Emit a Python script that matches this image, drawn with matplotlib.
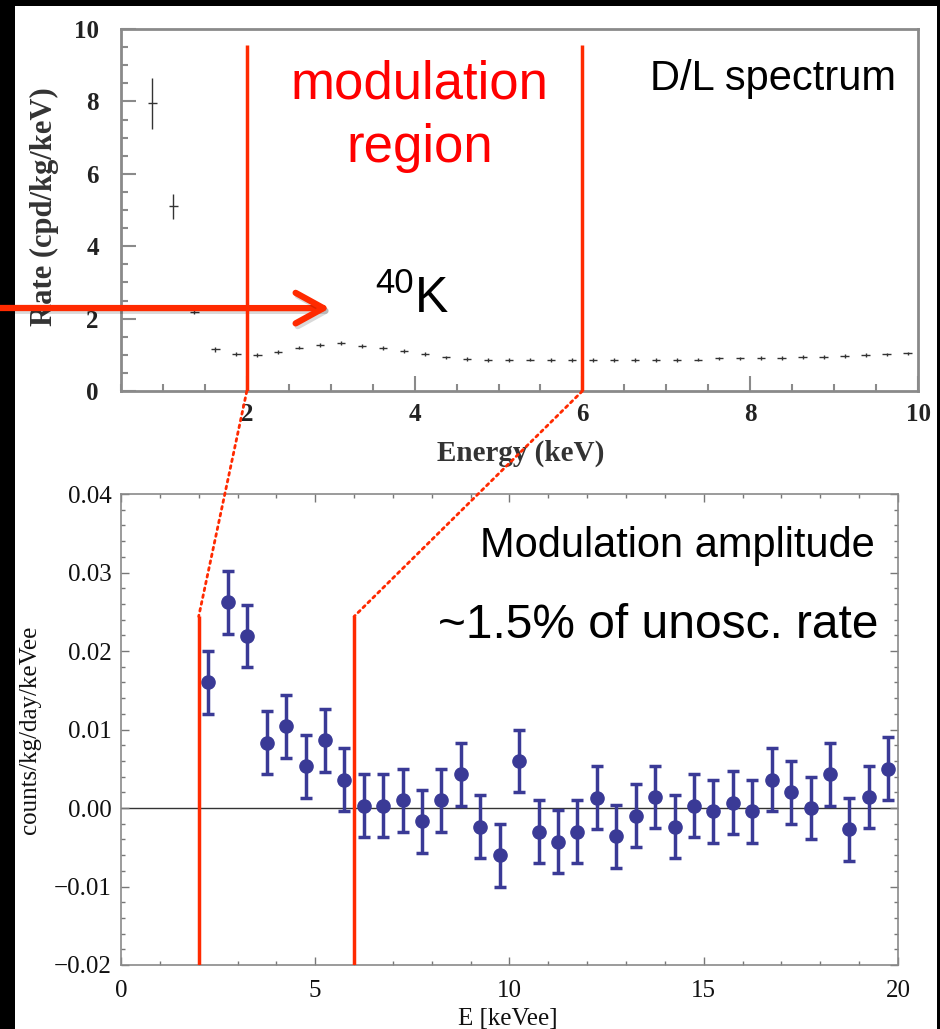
import matplotlib
matplotlib.use("Agg")
import matplotlib.pyplot as plt
import matplotlib.patheffects as pe
from matplotlib.patches import Rectangle, ConnectionPatch
from matplotlib.ticker import MultipleLocator, FuncFormatter

# D/L spectrum (top panel)
energy_top = [0.875, 1.125, 1.375, 1.625, 1.875, 2.125, 2.375, 2.625, 2.875, 3.125,
              3.375, 3.625, 3.875, 4.125, 4.375, 4.625, 4.875, 5.125, 5.375, 5.625,
              5.875, 6.125, 6.375, 6.625, 6.875, 7.125, 7.375, 7.625, 7.875, 8.125,
              8.375, 8.625, 8.875, 9.125, 9.375, 9.625, 9.875]
rate_top = [7.95, 5.1, 2.18, 1.15, 1.02, 1.0, 1.08, 1.2, 1.27, 1.32,
            1.25, 1.18, 1.1, 1.02, 0.93, 0.88, 0.86, 0.86, 0.87, 0.86,
            0.86, 0.86, 0.85, 0.85, 0.85, 0.86, 0.87, 0.9, 0.9, 0.91,
            0.91, 0.94, 0.94, 0.97, 1.0, 1.01, 1.04]
rate_err = [0.7, 0.35, 0.06, 0.06, 0.05, 0.05, 0.05, 0.05, 0.05, 0.05,
            0.05, 0.05, 0.05, 0.05, 0.05, 0.05, 0.05, 0.05, 0.05, 0.05,
            0.05, 0.05, 0.05, 0.05, 0.05, 0.05, 0.05, 0.05, 0.05, 0.05,
            0.05, 0.05, 0.05, 0.05, 0.05, 0.05, 0.05]

# modulation amplitude (bottom panel)
energy_mod = [2.25, 2.75, 3.25, 3.75, 4.25, 4.75, 5.25, 5.75, 6.25, 6.75,
              7.25, 7.75, 8.25, 8.75, 9.25, 9.75, 10.25, 10.75, 11.25, 11.75,
              12.25, 12.75, 13.25, 13.75, 14.25, 14.75, 15.25, 15.75, 16.25, 16.75,
              17.25, 17.75, 18.25, 18.75, 19.25, 19.75]
amp_mod = [0.016, 0.0262, 0.0219, 0.0083, 0.0104, 0.0053, 0.0086, 0.0036, 0.0003, 0.0003,
           0.001, -0.0017, 0.001, 0.0043, -0.0024, -0.006, 0.006, -0.003, -0.0043, -0.003,
           0.0013, -0.0036, -0.001, 0.0014, -0.0024, 0.0003, -0.0004, 0.0007, -0.0004, 0.0036,
           0.002, 0.0, 0.0043, -0.0027, 0.0014, 0.005]
amp_err = [0.004] * len(amp_mod)

region = [2, 6]
region_top_rate = 9.56
region_top_amp = 0.0244

red = "#ff2a00"
blue = "#3a3a96"
serif = "Liberation Serif"
sans = "Liberation Sans"

fig = plt.figure(figsize=(9.4, 10.29), dpi=100, facecolor="black")
fig.add_artist(Rectangle((15 / 940, 0), 922 / 940, 1023 / 1029, transform=fig.transFigure,
                         facecolor="white", edgecolor="none", zorder=0))

# ---- top panel ----
ax1 = fig.add_axes([0.1287, 0.62, 0.8479, 0.3518])
ax1.errorbar(energy_top, rate_top, yerr=rate_err, xerr=0.05, fmt="none",
             ecolor="#333333", elinewidth=1.0)
ax1.set_xlim(0.5, 10)
ax1.set_ylim(0, 10)
ax1.xaxis.set_major_locator(MultipleLocator(2))
ax1.xaxis.set_minor_locator(MultipleLocator(0.5))
ax1.yaxis.set_major_locator(MultipleLocator(2))
ax1.yaxis.set_minor_locator(MultipleLocator(0.5))
for s in ax1.spines.values():
    s.set_color("#8a8a8a")
    s.set_linewidth(2)
ax1.tick_params(which="both", direction="in", top=False, right=False, color="#8a8a8a")
ax1.tick_params(which="major", length=11, width=1.5)
ax1.tick_params(which="minor", length=5, width=1.5)
ax1.tick_params(axis="x", pad=8.6)
ax1.tick_params(axis="y", pad=16)
for lab in ax1.get_xticklabels() + ax1.get_yticklabels():
    lab.set_fontfamily(serif)
    lab.set_fontweight("bold")
    lab.set_fontsize(18)
    lab.set_color("#222222")
ax1.set_xlabel("Energy (keV)", fontfamily=serif, fontweight="bold", fontsize=21, color="#333333")
ax1.set_ylabel("Rate (cpd/kg/keV)", fontfamily=serif, fontweight="bold", fontsize=22, color="#333333")
ax1.xaxis.set_label_coords(0.502, -0.135)
ax1.yaxis.set_label_coords(-0.078, 0.51)

ax1.vlines(region, 0, region_top_rate, color=red, lw=2.5, zorder=5)
ax1.text(4.06, 8.07, "modulation", color="red", fontfamily=sans, fontsize=38, ha="center", va="baseline")
ax1.text(4.06, 6.33, "region", color="red", fontfamily=sans, fontsize=38, ha="center", va="baseline")
ax1.text(9.74, 8.31, "D/L spectrum", color="black", fontfamily=sans, fontsize=30, ha="right", va="baseline")
ax1.text(3.53, 2.71, "40", color="black", fontfamily=sans, fontsize=25, ha="left", va="baseline")
ax1.text(4.0, 2.18, "K", color="black", fontfamily=sans, fontsize=36, ha="left", va="baseline")

ax1.annotate("", xy=(2.99, 2.29), xycoords="data",
             xytext=(0.0, (1029 - 308) / 1029), textcoords="figure fraction",
             annotation_clip=False,
             arrowprops=dict(arrowstyle="->,head_length=1.0,head_width=0.55", mutation_scale=20,
                             lw=4.5, color=red, shrinkA=0, shrinkB=0,
                             capstyle="round", joinstyle="round",
                             path_effects=[pe.SimpleLineShadow(offset=(1.5, -2), alpha=0.15),
                                           pe.Normal()]))

# ---- bottom panel ----
ax2 = fig.add_axes([0.1287, 0.0622, 0.8266, 0.4577])
ax2.axhline(0, color="#333333", lw=1, zorder=1)
ax2.errorbar(energy_mod, amp_mod, yerr=amp_err, fmt="o", color=blue, ms=9.5,
             elinewidth=2.5, capsize=4, capthick=2.5, zorder=4)
ax2.set_xlim(0, 20)
ax2.set_ylim(-0.02, 0.04)
ax2.xaxis.set_major_locator(MultipleLocator(5))
ax2.xaxis.set_minor_locator(MultipleLocator(1))
ax2.yaxis.set_major_locator(MultipleLocator(0.01))
ax2.yaxis.set_minor_locator(MultipleLocator(0.002))
ax2.yaxis.set_major_formatter(FuncFormatter(lambda v, p: ("%.2f" % (0.0 if abs(v) < 1e-9 else v)).replace("-", "\u2212")))
for s in ax2.spines.values():
    s.set_color("#8a8a8a")
    s.set_linewidth(1.2)
ax2.tick_params(which="both", direction="in", top=True, right=True, color="#777777")
ax2.tick_params(which="major", length=6, width=1)
ax2.tick_params(which="minor", length=3, width=1)
ax2.tick_params(axis="x", pad=10.5)
ax2.tick_params(axis="y", pad=6.5)
for lab in ax2.get_xticklabels() + ax2.get_yticklabels():
    lab.set_fontfamily(serif)
    lab.set_fontsize(18)
    lab.set_color("#111111")
ax2.set_xlabel("E [keVee]", fontfamily=serif, fontsize=18, color="#111111")
ax2.set_ylabel("counts/kg/day/keVee", fontfamily=serif, fontsize=18, color="#111111")
ax2.xaxis.set_label_coords(0.498, -0.092)
ax2.yaxis.set_label_coords(-0.103, 0.5)

ax2.vlines(region, -0.02, region_top_amp, color=red, lw=2.5, zorder=5)
ax2.text(19.41, 0.032, "Modulation amplitude", color="black", fontfamily=sans, fontsize=30,
         ha="right", va="baseline")
ax2.text(19.51, 0.0217, "~1.5% of unosc. rate", color="black", fontfamily=sans, fontsize=34.5,
         ha="right", va="baseline")

# dotted zoom lines between the panels
for e in region:
    con = ConnectionPatch(xyA=(e, 0), coordsA=ax1.transData,
                          xyB=(e, region_top_amp), coordsB=ax2.transData,
                          color=red, lw=2, linestyle=(0, (1, 1.5)), zorder=10)
    fig.add_artist(con)

fig.savefig("out.png", dpi=100, facecolor="black")
